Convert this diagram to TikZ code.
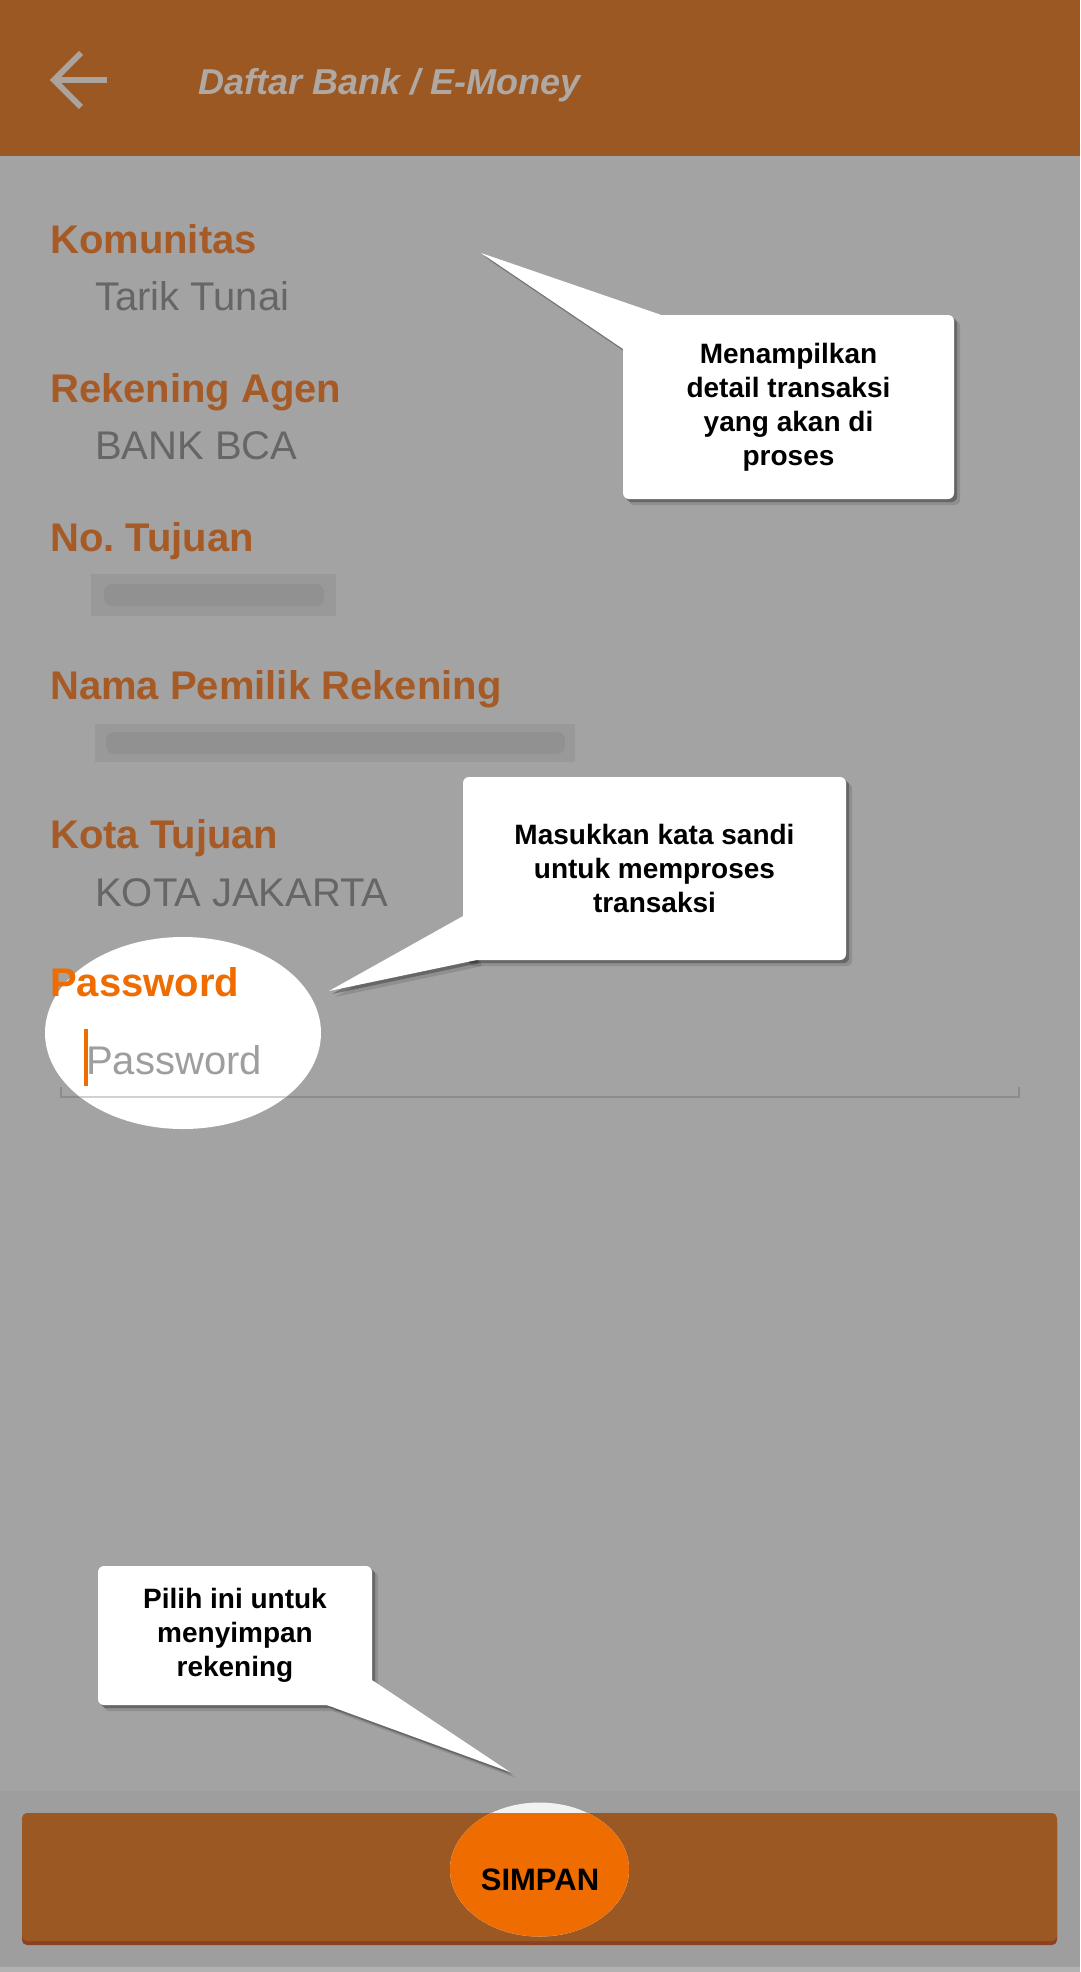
\documentclass[tikz,border=0pt]{standalone}
\usepackage{fontspec}
\setmainfont{Liberation Sans}
\usetikzlibrary{calc}
\definecolor{hdr}{HTML}{9C5823}
\definecolor{hdrdark}{HTML}{8A4322}
\definecolor{bodygray}{HTML}{A3A3A3}
\definecolor{footgray}{HTML}{9E9E9E}
\definecolor{lbl}{HTML}{A65A26}
\definecolor{valgray}{HTML}{666666}
\definecolor{orng}{HTML}{EE6C00}
\definecolor{titlegray}{HTML}{B0A8A2}
\definecolor{icongray}{HTML}{ABA39D}
\definecolor{blurgray}{HTML}{999999}
\definecolor{blurdark}{HTML}{8E8E8E}
\definecolor{linegray}{HTML}{8C8C8C}
\definecolor{phgray}{HTML}{9E9E9E}
\pgfdeclarelayer{base}
\pgfdeclarelayer{shadow}
\pgfsetlayers{base,shadow,main}
\begin{document}
\begin{tikzpicture}[x=1pt,y=-1pt,
  lab/.style={anchor=base west, inner sep=0pt, text=lbl, font=\fontsize{40}{48}\selectfont\bfseries},
  valtext/.style={anchor=base west, inner sep=0pt, text=valgray, font=\fontsize{40}{48}\selectfont},
  callout/.style={fill=white, rounded corners=6pt, inner sep=0pt, align=center, font=\fontsize{28}{34}\selectfont\bfseries, text=black},
  callwedge/.style={fill=white},
  shadowfill/.style={fill=black, opacity=#1},
]
\useasboundingbox (0,0) rectangle (1080,1972);

\begin{pgfonlayer}{base}
% backgrounds
\fill[bodygray] (0,0) rectangle (1080,1972);
\fill[hdr] (0,0) rectangle (1080,156);
\fill[footgray] (0,1791) rectangle (1080,1967);
\fill[black!30] (0,1967) rectangle (1080,1972);

% header
\draw[icongray, line width=6pt] (53,80) -- (107,80);
\draw[icongray, line width=6pt, line join=miter] (81,53) -- (54,80) -- (81,107);
\node[anchor=base west, inner sep=0pt, text=titlegray, font=\fontsize{36}{42}\selectfont\bfseries\itshape] (title) at (198,95) {Daftar Bank / E-Money};

% fields
\node[lab] (l1) at (50,253) {Komunitas};
\node[valtext] (v1) at (95,310) {Tarik Tunai};
\node[lab] (l2) at (50,402) {Rekening Agen};
\node[valtext] (v2) at (95,459) {BANK BCA};
\node[lab] (l3) at (50,551) {No.\ Tujuan};
\fill[blurgray] (91,574) rectangle (336,616);
\fill[blurdark, opacity=.7, rounded corners=8pt] (104,584) rectangle (324,606);
\node[lab] (l4) at (50,699) {Nama Pemilik Rekening};
\fill[blurgray] (95,724) rectangle (575,762);
\fill[blurdark, opacity=.7, rounded corners=8pt] (106,732) rectangle (565,754);
\node[lab] (l5) at (50,848) {Kota Tujuan};
\node[valtext] (v5) at (95,906) {KOTA JAKARTA};

% password field
\draw[linegray, line width=2.5pt] (61,1087) -- (61,1097) -- (1019,1097) -- (1019,1087);
\fill[white] (183,1033) ellipse [x radius=138, y radius=96];
\begin{scope}
\clip (183,1033) ellipse [x radius=138, y radius=96];
\draw[black!18, line width=2.5pt] (61,1087) -- (61,1097) -- (1019,1097);
\end{scope}
\node[anchor=base west, inner sep=0pt, text=orng, font=\fontsize{40}{48}\selectfont\bfseries] (l6) at (50,996) {Password};
\node[anchor=base west, inner sep=0pt, text=phgray, font=\fontsize{40}{48}\selectfont] (ph) at (86,1074) {Password};
\fill[orng] (84,1029) rectangle (88,1086);

% button
\fill[hdrdark, rounded corners=5pt] (22,1817) rectangle (1057,1945);
\fill[hdr, rounded corners=5pt] (22,1813) rectangle (1057,1941);
\fill[black!5] (539.5,1869.5) ellipse [x radius=89.5, y radius=67];
\begin{scope}
\clip (22,1813) rectangle (1057,1941);
\fill[orng] (539.5,1869.5) ellipse [x radius=89.5, y radius=67];
\end{scope}
\node[anchor=center, inner sep=0pt, text=black, font=\fontsize{31}{37}\selectfont\bfseries] (simpan) at (540,1880) {SIMPAN};
\end{pgfonlayer}

% callouts
\node[callout, minimum width=331pt, minimum height=184pt] (c1) at (788.5,407) {Menampilkan\\detail transaksi\\yang akan di\\proses};
\node[callout, minimum width=383pt, minimum height=183pt] (c2) at (654.5,868.5) {Masukkan kata sandi\\untuk memproses\\transaksi};
\node[callout, minimum width=274pt, minimum height=139pt] (c3) at (235,1635.5) {Pilih ini untuk\\menyimpan\\rekening};

\coordinate (t1) at (481,253);
\coordinate (t2) at (329,991);
\coordinate (t3) at (510,1772);

\fill[callwedge] ($(c1.north west)+(38,0)$) -- (t1) -- ($(c1.north west)+(0,34)$) -- cycle;
\fill[callwedge] ($(c2.south west)+(0,-44)$) -- (t2) -- ($(c2.south west)+(13,0)$) -- cycle;
\fill[callwedge] ($(c3.south east)+(0,-25)$) -- (t3) -- ($(c3.south east)+(-45,0)$) -- cycle;

\begin{pgfonlayer}{shadow}
\foreach \s/\o in {6/0.12,3/0.28} {
  \fill[shadowfill=\o, rounded corners=6pt] ($(c1.north west)+(\s,\s)$) rectangle ($(c1.south east)+(\s,\s)$);
  \fill[shadowfill=\o] ($(c1.north west)+(38+\s,\s)$) -- ($(t1)+(\s,\s)$) -- ($(c1.north west)+(\s,34+\s)$) -- cycle;
  \fill[shadowfill=\o, rounded corners=6pt] ($(c2.north west)+(\s,\s)$) rectangle ($(c2.south east)+(\s,\s)$);
  \fill[shadowfill=\o] ($(c2.south west)+(\s,-44+\s)$) -- ($(t2)+(\s,\s)$) -- ($(c2.south west)+(13+\s,\s)$) -- cycle;
  \fill[shadowfill=\o, rounded corners=6pt] ($(c3.north west)+(\s,\s)$) rectangle ($(c3.south east)+(\s,\s)$);
  \fill[shadowfill=\o] ($(c3.south east)+(\s,-25+\s)$) -- ($(t3)+(\s,\s)$) -- ($(c3.south east)+(-45+\s,\s)$) -- cycle;
}
\end{pgfonlayer}
\end{tikzpicture}
\end{document}
